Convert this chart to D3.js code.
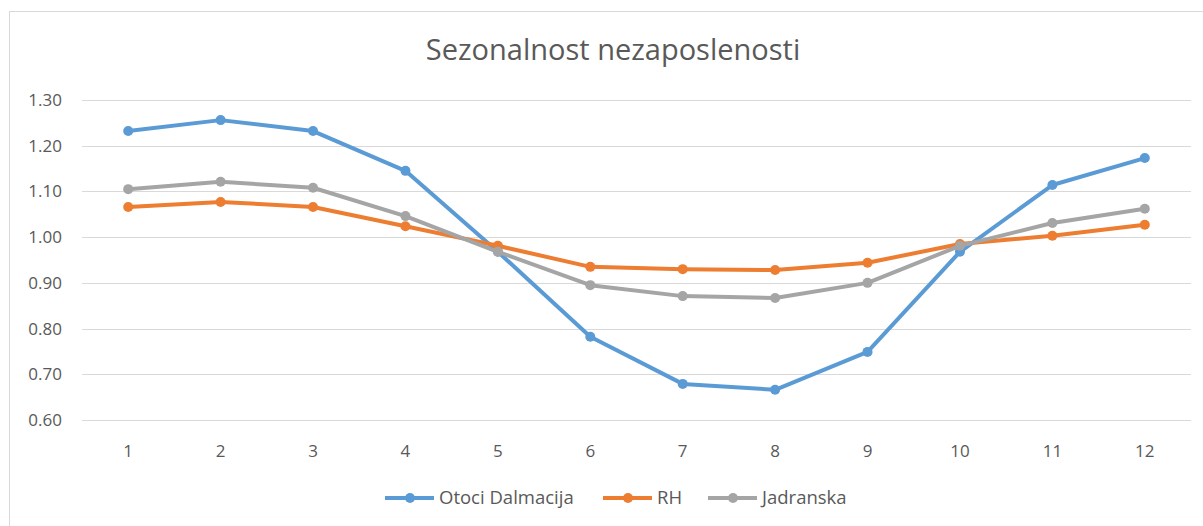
<!DOCTYPE html>
<html>
<head>
<meta charset="utf-8">
<script src="https://cdn.jsdelivr.net/npm/d3@7"></script>
<style>
  body { margin: 0; background: #fff; }
  svg text { font-family: "Open Sans", "Liberation Sans", sans-serif; fill: #595959; }
</style>
</head>
<body>
<script>
var months = [1, 2, 3, 4, 5, 6, 7, 8, 9, 10, 11, 12];
var otociDalmacija = [1.232, 1.256, 1.232, 1.145, 0.968, 0.782, 0.679, 0.666, 0.749, 0.968, 1.114, 1.173];
var rh = [1.066, 1.077, 1.066, 1.024, 0.981, 0.935, 0.930, 0.928, 0.944, 0.985, 1.003, 1.027];
var jadranska = [1.105, 1.121, 1.108, 1.046, 0.968, 0.895, 0.871, 0.867, 0.900, 0.981, 1.031, 1.062];
var yTicks = [0.6, 0.7, 0.8, 0.9, 1.0, 1.1, 1.2, 1.3];

var series = [
    { name: "Otoci Dalmacija", values: otociDalmacija, color: "#5b9bd5" },
    { name: "RH", values: rh, color: "#ed7d31" },
    { name: "Jadranska", values: jadranska, color: "#a5a5a5" }
];

var w = 1203, h = 526;
var pLeft = 82, pRight = 1191, pTop = 100, pBottom = 420;

var svg = d3.select("body").append("svg")
    .attr("width", w)
    .attr("height", h);

// chart border (right and bottom edges run off the picture)
svg.append("rect")
    .attr("x", 9.5).attr("y", 11.5)
    .attr("width", w).attr("height", h)
    .attr("fill", "none")
    .attr("stroke", "#d9d9d9");

var x = d3.scaleBand().domain(months).range([pLeft, pRight]);
var y = d3.scaleLinear().domain([0.6, 1.3]).range([pBottom, pTop]);

// gridlines
svg.append("g")
    .selectAll("line")
    .data(yTicks)
    .enter().append("line")
    .attr("x1", pLeft).attr("x2", pRight)
    .attr("y1", d => Math.round(y(d)) + 0.5)
    .attr("y2", d => Math.round(y(d)) + 0.5)
    .attr("stroke", "#d9d9d9");

// y axis labels
var yAxis = d3.axisLeft(y).tickValues(yTicks).tickFormat(d3.format(".2f")).tickSize(0).tickPadding(0);
var gy = svg.append("g").attr("transform", "translate(62,0)").call(yAxis);
gy.select(".domain").remove();
gy.selectAll("text").style("font-size", "17px").attr("fill", "#595959");

// x axis labels
var xAxis = d3.axisBottom(x).tickSize(0).tickPadding(0);
var gx = svg.append("g").attr("transform", "translate(0," + (pBottom + 25) + ")").call(xAxis);
gx.select(".domain").remove();
gx.selectAll("text").style("font-size", "17px").attr("fill", "#595959");

var cx = d => x(d) + x.bandwidth() / 2;

var line = d3.line()
    .x((d, i) => cx(months[i]))
    .y(d => y(d));

series.forEach(function (s) {
    svg.append("path")
        .datum(s.values)
        .attr("fill", "none")
        .attr("stroke", s.color)
        .attr("stroke-width", 4)
        .attr("stroke-linejoin", "round")
        .attr("stroke-linecap", "round")
        .attr("d", line);

    svg.append("g")
        .selectAll("circle")
        .data(s.values)
        .enter().append("circle")
        .attr("cx", (d, i) => cx(months[i]))
        .attr("cy", d => y(d))
        .attr("r", 5)
        .attr("fill", s.color);
});

// title
svg.append("text")
    .attr("x", 613).attr("y", 60)
    .attr("text-anchor", "middle")
    .style("font-size", "29px")
    .text("Sezonalnost nezaposlenosti");

// legend
var legendX = [385, 603, 708];
var lg = svg.append("g");
series.forEach(function (s, i) {
    var g = lg.append("g").attr("transform", "translate(" + legendX[i] + ",498)");
    g.append("line")
        .attr("x1", 0).attr("x2", 49)
        .attr("stroke", s.color)
        .attr("stroke-width", 4);
    g.append("circle").attr("cx", 25).attr("r", 5).attr("fill", s.color);
    g.append("text")
        .attr("x", 54).attr("y", 6)
        .style("font-size", "18.5px")
        .text(s.name);
});
</script>
</body>
</html>
